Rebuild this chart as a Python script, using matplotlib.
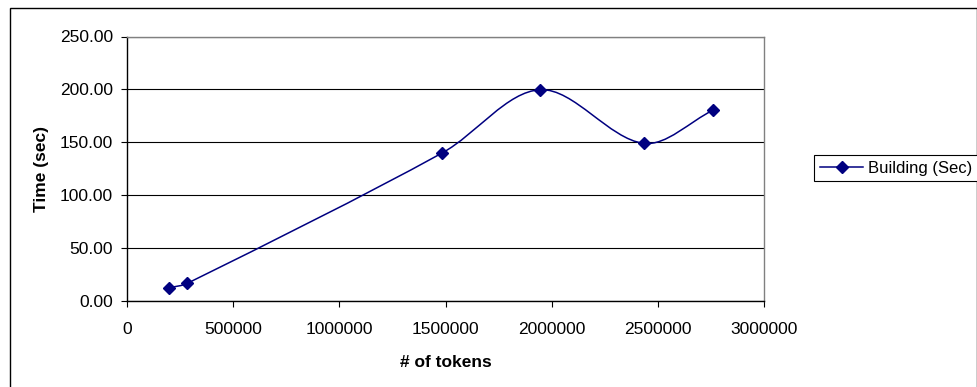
"""Excel-style smoothed line chart: index building time vs number of tokens."""
import matplotlib

matplotlib.use("Agg")
import matplotlib.pyplot as plt  # noqa: E402
from matplotlib.lines import Line2D  # noqa: E402
from matplotlib.patches import PathPatch, Rectangle  # noqa: E402
from matplotlib.path import Path  # noqa: E402

tokens = [200000, 284000, 1485000, 1947000, 2434000, 2759000]
build_sec = [12.5, 16.7, 140.0, 199.7, 149.0, 180.2]

x_ticks = [0, 500000, 1000000, 1500000, 2000000, 2500000, 3000000]
x_ticklabels = ["0", "500000", "1000000", "1500000", "2000000", "2500000", "3000000"]
y_ticks = [0, 50, 100, 150, 200, 250]
y_ticklabels = ["0.00", "50.00", "100.00", "150.00", "200.00", "250.00"]

series_label = "Building (Sec)"
x_label = "# of tokens"
y_label = "Time (sec)"

NAVY = "#000080"
GREY = "#808080"
FS = 12

plt.rcParams["font.family"] = ["Liberation Sans", "DejaVu Sans"]
plt.rcParams["font.size"] = FS


def smooth_path(ax, xs, ys, k=1 / 3):
    # Excel-like "smoothed line": cubic Beziers whose tangents follow the
    # neighbouring points, scaled by segment length in screen space so that
    # unevenly spaced points do not loop back.
    to_px = ax.transData
    pts = [tuple(to_px.transform((x, y))) for x, y in zip(xs, ys)]

    def dist(a, b):
        return ((a[0] - b[0]) ** 2 + (a[1] - b[1]) ** 2) ** 0.5

    n = len(pts)
    tang = []
    for i in range(n):
        a = pts[i - 1] if i > 0 else pts[i]
        b = pts[i + 1] if i < n - 1 else pts[i]
        d = dist(pts[i], a) + dist(b, pts[i])
        tang.append(((b[0] - a[0]) / d, (b[1] - a[1]) / d))

    verts = [pts[0]]
    codes = [Path.MOVETO]
    for i in range(n - 1):
        p1, p2 = pts[i], pts[i + 1]
        L = dist(p1, p2)
        c1 = (p1[0] + tang[i][0] * L * k, p1[1] + tang[i][1] * L * k)
        c2 = (p2[0] - tang[i + 1][0] * L * k, p2[1] - tang[i + 1][1] * L * k)
        verts += [c1, c2, p2]
        codes += [Path.CURVE4] * 3
    inv = to_px.inverted()
    return Path([tuple(inv.transform(v)) for v in verts], codes)


W, H = 977, 387
fig = plt.figure(figsize=(W / 100, H / 100), dpi=100)
ax = fig.add_axes([127 / W, 1 - 301 / H, (764 - 127) / W, (301 - 36.5) / H])

ax.set_xlim(0, 3000000)
ax.set_ylim(0, 250)

ax.add_patch(PathPatch(smooth_path(ax, tokens, build_sec), facecolor="none",
                       edgecolor=NAVY, lw=1.1, zorder=3))
ax.plot(tokens, build_sec, ls="none", marker="D", ms=6, color=NAVY, zorder=4)

ax.set_xticks(x_ticks)
ax.set_xticklabels(x_ticklabels)
ax.set_yticks(y_ticks)
ax.set_yticklabels(y_ticklabels)
ax.tick_params(axis="both", direction="out", length=4, width=0.8, color="black",
               labelsize=12.5)
ax.tick_params(axis="x", pad=11)
ax.tick_params(axis="y", pad=6)
ax.grid(axis="y", color="black", lw=0.8, zorder=1)
ax.set_axisbelow(True)

ax.spines["left"].set_color("black")
ax.spines["bottom"].set_color("black")
ax.spines["top"].set_color(GREY)
ax.spines["right"].set_color(GREY)
for sp in ax.spines.values():
    sp.set_linewidth(1.0)

ax.set_xlabel(x_label, fontweight="bold", fontsize=12.5, labelpad=13)
ax.set_ylabel(y_label, fontweight="bold", fontsize=12.5, labelpad=8)

handle = Line2D([0], [0], color=NAVY, lw=1.1, marker="D", ms=6)
leg = fig.legend([handle], [series_label], loc="center left",
                 bbox_to_anchor=(814 / W, 1 - 168 / H), frameon=True,
                 fancybox=False, edgecolor="black", framealpha=1,
                 handlelength=2.6, handletextpad=0.3, borderpad=0.35,
                 numpoints=1, fontsize=FS, borderaxespad=0)
leg.get_frame().set_linewidth(0.8)

# outer chart-area border (bottom edge falls outside the image)
fig.patches.append(Rectangle((9.5 / W, -0.05), (976.5 - 9.5) / W, 1.05 - 7.5 / H,
                             transform=fig.transFigure, fill=False,
                             edgecolor="black", lw=1.0))

fig.savefig("out.png", dpi=100, facecolor="white")
